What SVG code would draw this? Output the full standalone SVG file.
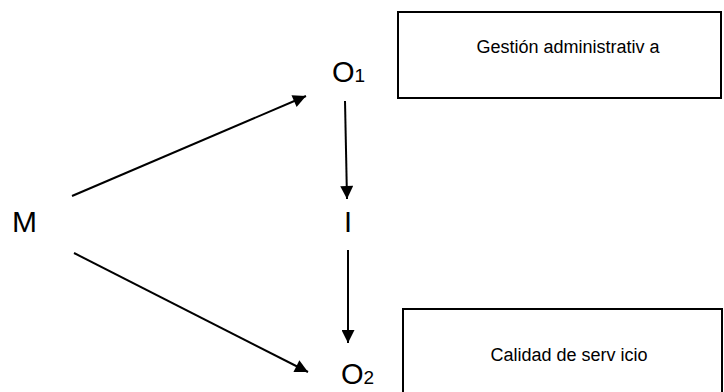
<svg xmlns="http://www.w3.org/2000/svg" width="724" height="392" viewBox="0 0 724 392">
<style>
.box{fill:#fff;stroke:#000;stroke-width:2}
.big{font-family:"Liberation Sans",Arial,sans-serif;font-size:29px;fill:#000}
.sub{font-family:"Liberation Sans",Arial,sans-serif;font-size:19px;fill:#000}
.lbl{font-family:"Liberation Sans",Arial,sans-serif;font-size:18px;fill:#000;text-anchor:middle}
.edge{stroke:#000;stroke-width:2;fill:none;marker-end:url(#ah)}
</style>
<defs>
<marker id="ah" viewBox="0 0 10 10" refX="10" refY="5" markerWidth="8" markerHeight="6.5" orient="auto" markerUnits="strokeWidth">
<path d="M0,0 L10,5 L0,10 z" fill="#000"/>
</marker>
</defs>
<rect width="724" height="392" fill="#fff"/>
<g id="box1"><rect class="box" x="398" y="12" width="323" height="86"/><text class="lbl" x="568" y="53">Gestión administrativ a</text></g>
<g id="box2"><rect class="box" x="403" y="309" width="319" height="95"/><text class="lbl" x="569" y="361">Calidad de serv icio</text></g>
<g id="M"><text class="big" x="12" y="232" style="font-size:30px">M</text></g>
<g id="O1"><text class="big" x="332" y="82">O<tspan class="sub">1</tspan></text></g>
<g id="I"><text class="big" x="344" y="232">I</text></g>
<g id="O2"><text class="big" x="341" y="384">O<tspan class="sub">2</tspan></text></g>
<g id="connectors">
<line class="edge" x1="72" y1="196" x2="306" y2="96"/>
<line class="edge" x1="74" y1="253" x2="308" y2="372"/>
<line class="edge" x1="345" y1="101" x2="347" y2="199"/>
<line class="edge" x1="348" y1="250" x2="348" y2="343"/>
</g>
</svg>
